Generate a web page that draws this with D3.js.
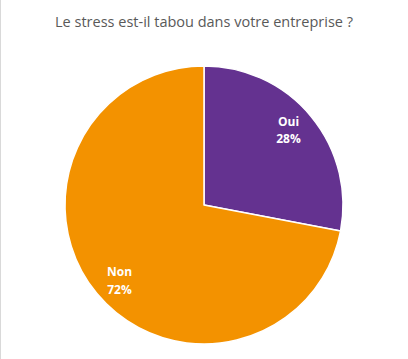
<!DOCTYPE html>
<html><head><meta charset="utf-8">
<script src="https://cdn.jsdelivr.net/npm/d3@7"></script>
<style>html,body{margin:0;padding:0;background:#fff;}svg{display:block;}</style>
</head><body>
<svg id="c" width="408" height="359"></svg>
<script>
const categories = ["Oui", "Non"];
const values = [28, 72];
const colors = ["#643290", "#F39200"];
const title = "Le stress est-il tabou dans votre entreprise ?";

const svg = d3.select("#c");
svg.append("rect").attr("x",0.5).attr("y",-1).attr("width",420).attr("height",400)
  .attr("fill","#fff").attr("stroke","#d9d9d9").attr("stroke-width",1);

svg.append("text").attr("x",204).attr("y",27).attr("text-anchor","middle")
  .attr("font-family","'Open Sans', 'Liberation Sans', sans-serif").attr("font-size",14.5)
  .attr("fill","#595959").text(title);

const cx = 204, cy = 205, r = 139;
const data = categories.map((c,i)=>({cat:c, v:values[i], col:colors[i]}));
const pie = d3.pie().value(d=>d.v).sort(null);
const arc = d3.arc().innerRadius(0).outerRadius(r);
const total = d3.sum(values);
const g = svg.append("g").attr("transform",`translate(${cx},${cy})`);
const arcs = pie(data);
g.selectAll("path").data(arcs).join("path")
  .attr("d",arc).attr("fill",d=>d.data.col)
  .attr("stroke","#fff").attr("stroke-width",1.5).attr("stroke-linejoin","round");
const LR = 113, rot = -2*Math.PI/180;
function lpos(d){ const a=(d.startAngle+d.endAngle)/2+rot; return [LR*Math.sin(a), -LR*Math.cos(a)]; }
const lab = g.selectAll("text.l").data(arcs).join("text").attr("class","l")
  .attr("transform",d=>`translate(${lpos(d)})`)
  .attr("text-anchor","middle").attr("fill","#fff")
  .attr("font-family","'Open Sans', 'Liberation Sans', sans-serif").attr("font-weight","bold").attr("font-size",12);
lab.append("tspan").attr("x",0).attr("y",-4).text(d=>d.data.cat);
lab.append("tspan").attr("x",0).attr("y",13.5).text(d=>Math.round(d.data.v/total*100)+"%");
</script>
</body></html>
